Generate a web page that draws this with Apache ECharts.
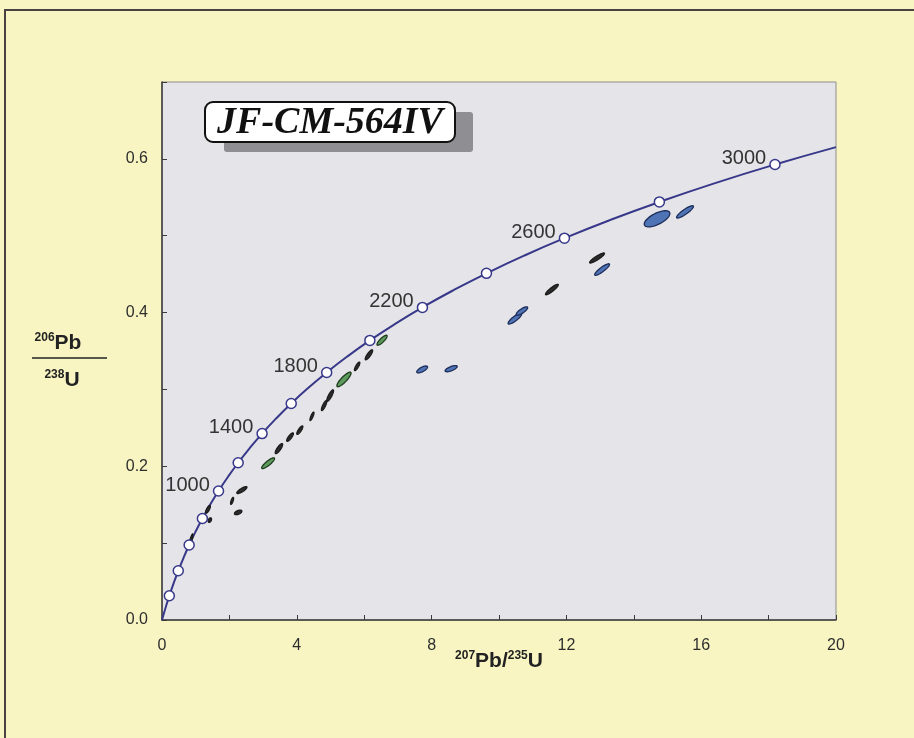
<!DOCTYPE html>
<html>
<head>
<meta charset="utf-8">
<script src="https://cdn.jsdelivr.net/npm/echarts@6/dist/echarts.min.js"></script>
<style>
html,body{margin:0;padding:0;background:#f8f5c3;}
#c{width:914px;height:738px;}
</style>
</head>
<body>
<div id="c"></div>
<script>
// Concordia curve points (207Pb/235U, 206Pb/238U), 100 Ma steps
const concordiaX = [0,0.1035,0.2177,0.3437,0.4828,0.6362,0.8056,0.9925,1.1987,1.4264,1.6774,1.9545,2.2603,2.5977,2.9700,3.3811,3.8345,4.3348,4.8870,5.4961,6.1683,6.9101,7.7286,8.6318,9.6285,10.7284,11.9420,13.2812,14.7590,16.3897,18.1891,20.0];
const concordiaY = [0,0.01563,0.03151,0.04764,0.06402,0.08065,0.09754,0.11470,0.13213,0.14983,0.16781,0.18605,0.20458,0.22342,0.24256,0.26199,0.28172,0.30175,0.32210,0.34277,0.36376,0.38508,0.40673,0.42872,0.45106,0.47374,0.49678,0.52018,0.54395,0.56808,0.59260,0.6153];
// Age markers every 200 Ma (200..3000)
const markerAges = [200,400,600,800,1000,1200,1400,1600,1800,2000,2200,2400,2600,2800,3000];
const markerX = [0.2177,0.4828,0.8056,1.1987,1.6774,2.2603,2.9700,3.8345,4.8870,6.1683,7.7286,9.6285,11.9420,14.7590,18.1891];
const markerY = [0.03151,0.06402,0.09754,0.13213,0.16781,0.20458,0.24256,0.28172,0.32210,0.36376,0.40673,0.45106,0.49678,0.54395,0.59260];
const labelledAges = [1000,1400,1800,2200,2600,3000];

// Analyses: [x, y, sigmaX, sigmaY, rho]
const darkSpots = [
  [0.86,0.104,0.06,0.008,0.85],
  [1.365,0.144,0.07,0.005,0.75],
  [1.42,0.130,0.05,0.003,0.4],
  [2.37,0.169,0.15,0.0045,0.82],
  [2.08,0.155,0.045,0.0045,0.7],
  [2.26,0.140,0.11,0.003,0.5],
  [3.47,0.223,0.11,0.0065,0.82],
  [3.80,0.238,0.10,0.0055,0.82],
  [4.09,0.247,0.09,0.0055,0.82],
  [4.45,0.265,0.06,0.0055,0.82],
  [4.81,0.279,0.08,0.0065,0.82],
  [4.99,0.292,0.10,0.0075,0.84],
  [5.79,0.330,0.08,0.0055,0.82],
  [6.14,0.345,0.11,0.0065,0.84],
  [11.57,0.430,0.19,0.0068,0.9],
  [12.91,0.471,0.22,0.0065,0.9]
];
const greenSpots = [
  [3.15,0.204,0.19,0.007,0.86],
  [5.40,0.313,0.21,0.0095,0.86],
  [6.53,0.364,0.15,0.0065,0.84]
];
const blueSpots = [
  [7.72,0.326,0.16,0.0045,0.7],
  [8.58,0.327,0.18,0.004,0.7],
  [10.47,0.392,0.20,0.007,0.85],
  [10.68,0.402,0.17,0.0055,0.8],
  [13.06,0.456,0.22,0.0075,0.88],
  [14.69,0.522,0.38,0.0105,0.65],
  [15.52,0.531,0.25,0.008,0.88]
];
const xTicks = [0,4,8,12,16,20];
const yTicks = [0.0,0.2,0.4,0.6];

function ellipseSeries(name, data, fill, stroke){
  return {
    name, type:'custom', data, z:3,
    encode:{x:0,y:1},
    renderItem:function(params, api){
      const x=api.value(0), y=api.value(1), sx=api.value(2), sy=api.value(3), r=api.value(4);
      const q=Math.sqrt(1-r*r), pts=[];
      for(let k=0;k<48;k++){
        const t=2*Math.PI*k/48;
        pts.push(api.coord([x+sx*Math.cos(t), y+sy*(r*Math.cos(t)+q*Math.sin(t))]));
      }
      return {type:'polygon', shape:{points:pts}, style:{fill:fill, stroke:stroke, lineWidth:1.3}};
    }
  };
}

const chart = echarts.init(document.getElementById('c'));
const curve = concordiaX.map((x,i)=>[x, concordiaY[i]]);
const markers = markerX.map((x,i)=>({
  value:[x, markerY[i]],
  label:{show: labelledAges.indexOf(markerAges[i])>=0, formatter: String(markerAges[i])}
}));

chart.setOption({
  backgroundColor:'#f8f5c3',
  animation:false,
  grid:{left:162,right:78,top:82,bottom:118,show:true,backgroundColor:'#e5e5e9',borderColor:'#8c8c8c',borderWidth:1},
  xAxis:{type:'value',min:0,max:20,interval:2,
    axisLine:{show:true,onZero:false,lineStyle:{color:'#3a3a3a',width:1.5}},
    axisTick:{show:true,inside:true,length:5,lineStyle:{color:'#3a3a3a'}},
    splitLine:{show:false},
    axisLabel:{margin:18,fontSize:16,color:'#2e2e2e',fontFamily:'Liberation Sans, Arial',
      formatter:v=> xTicks.indexOf(Math.round(v))>=0 ? String(Math.round(v)) : ''}
  },
  yAxis:{type:'value',min:0,max:0.7,interval:0.1,
    axisLine:{show:true,onZero:false,lineStyle:{color:'#3a3a3a',width:1.5}},
    axisTick:{show:true,inside:true,length:5,lineStyle:{color:'#3a3a3a'}},
    splitLine:{show:false},
    axisLabel:{margin:14,fontSize:16,color:'#2e2e2e',fontFamily:'Liberation Sans, Arial',
      formatter:v=>{const s=(Math.round(v*10)/10); return yTicks.some(t=>Math.abs(t-s)<1e-6)? s.toFixed(1):'';}}
  },
  series:[
    {type:'line',data:curve,showSymbol:false,smooth:true,z:2,
      lineStyle:{color:'#38388a',width:2}},
    ellipseSeries('dark', darkSpots, '#2b2b2b', '#1a1a1a'),
    ellipseSeries('green', greenSpots, '#5d9a5b', '#1d3a1d'),
    ellipseSeries('blue', blueSpots, '#4f74b5', '#1c2c58'),
    {type:'scatter',data:markers,symbol:'circle',symbolSize:10,z:4,
      itemStyle:{color:'#ffffff',borderColor:'#38388a',borderWidth:1.5,opacity:1},
      label:{position:'left',distance:3,offset:[0,-6],fontSize:20,color:'#333',fontFamily:'Liberation Sans, Arial'}}
  ],
  graphic:[
    {type:'rect',shape:{x:5,y:10,width:940,height:760},style:{fill:'none',stroke:'#4a4242',lineWidth:2},z:0},
    {type:'rect',shape:{x:224,y:112,width:249,height:40,r:3},style:{fill:'#8f8f93'},z:10},
    {type:'rect',shape:{x:205,y:102,width:250,height:40,r:8},style:{fill:'#ffffff',stroke:'#111',lineWidth:2},z:11},
    {type:'text',x:330,y:123,z:12,style:{text:'JF-CM-564IV',fill:'#111',font:'italic bold 38px "Liberation Serif", "Times New Roman", serif',textAlign:'center',textVerticalAlign:'middle'}},
    {type:'text',x:58,y:343,z:12,style:{text:'{s|206}{b|Pb}',textAlign:'center',textVerticalAlign:'middle',
      rich:{s:{fontSize:12,fontWeight:'bold',fill:'#222',fontFamily:'Liberation Sans, Arial',verticalAlign:'top',lineHeight:22},
            b:{fontSize:21,fontWeight:'bold',fill:'#222',fontFamily:'Liberation Sans, Arial',lineHeight:22}}}},
    {type:'line',shape:{x1:32,y1:358,x2:107,y2:358},style:{stroke:'#222',lineWidth:1.5},z:12},
    {type:'text',x:62,y:380,z:12,style:{text:'{s|238}{b|U}',textAlign:'center',textVerticalAlign:'middle',
      rich:{s:{fontSize:12,fontWeight:'bold',fill:'#222',fontFamily:'Liberation Sans, Arial',verticalAlign:'top',lineHeight:22},
            b:{fontSize:21,fontWeight:'bold',fill:'#222',fontFamily:'Liberation Sans, Arial',lineHeight:22}}}},
    {type:'text',x:499,y:661,z:12,style:{text:'{s|207}{b|Pb/}{s|235}{b|U}',textAlign:'center',textVerticalAlign:'middle',
      rich:{s:{fontSize:12,fontWeight:'bold',fill:'#222',fontFamily:'Liberation Sans, Arial',verticalAlign:'top',lineHeight:22},
            b:{fontSize:21,fontWeight:'bold',fill:'#222',fontFamily:'Liberation Sans, Arial',lineHeight:22}}}}
  ]
});
</script>
</body>
</html>
